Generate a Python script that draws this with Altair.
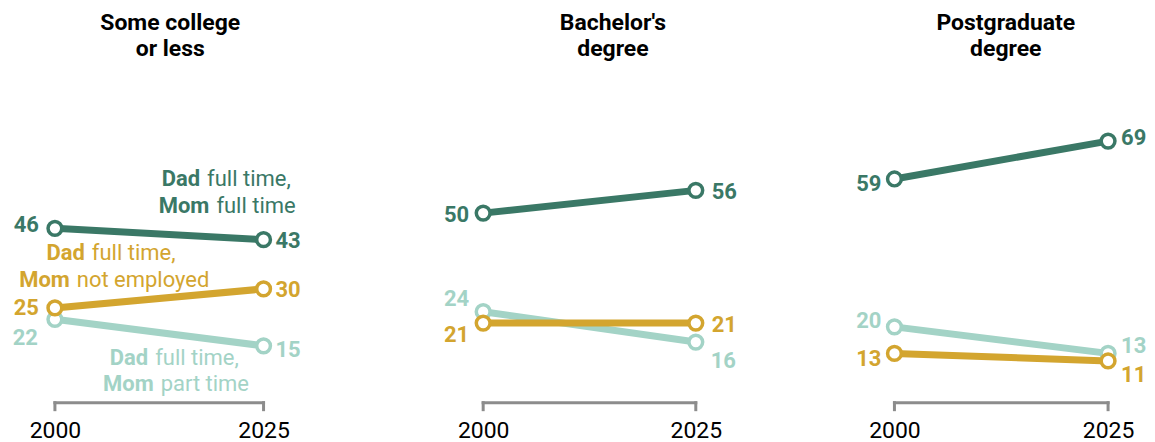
import altair as alt
import pandas as pd

# ---------------- data ----------------
panels = ["Some college or less", "Bachelor's degree", "Postgraduate degree"]
panel_titles = [["Some college", "or less"], ["Bachelor's", "degree"], ["Postgraduate", "degree"]]
years = [2000, 2025]
series_names = ["Dad full time, Mom part time",
                "Dad full time, Mom not employed",
                "Dad full time, Mom full time"]
mom_part_time = [[22, 15], [24, 16], [20, 13]]
mom_not_employed = [[25, 30], [21, 21], [13, 11]]
mom_full_time = [[46, 43], [50, 56], [59, 69]]
series_values = [mom_part_time, mom_not_employed, mom_full_time]

rows = []
for p, pname in enumerate(panels):
    for s, sname in enumerate(series_names):
        for yi, yr in enumerate(years):
            rows.append({"panel": pname, "series": sname, "year": yr,
                         "value": series_values[s][p][yi]})
df = pd.DataFrame(rows)

# ---------------- style / layout ----------------
colors = ["#A3D3C6", "#D3A52F", "#3A7866"]
gray = "#8C8C8C"
FONT = "Roboto"
HEIGHT = 395
y_dom = [0, 104]
widths = [372, 410, 357]
x_doms = [[1994.378, 2038.876], [1987.793, 2035.915], [1987.617, 2029.322]]
title_x = [2013.82, 2015.26, 2013.03]

# value label offsets (dx, dy) per panel, series, year index
offsets = {
    (0, 2, 0): (-16, -3), (0, 2, 1): (12, 1),
    (0, 1, 0): (-16, 0), (0, 1, 1): (12, 1),
    (0, 0, 0): (-17, 19), (0, 0, 1): (12, 4),
    (1, 2, 0): (-14, 2), (1, 2, 1): (16, 2),
    (1, 0, 0): (-14, -13), (1, 0, 1): (15, 19),
    (1, 1, 0): (-14, 12), (1, 1, 1): (16, 2),
    (2, 2, 0): (-13, 5), (2, 2, 1): (13, -3),
    (2, 0, 0): (-13, -6), (2, 0, 1): (13, -7),
    (2, 1, 0): (-13, 6), (2, 1, 1): (13, 14),
}

# series annotations in first panel: (series idx, x, y, bold, regular)
annotations = [
    (2, 2017.76, 57.13, "Dad", "full time,"),
    (2, 2018.87, 50.03, "Mom", "full time"),
    (1, 2003.95, 37.65, "Dad", "full time,"),
    (1, 2002.15, 30.62, "Mom", "not employed"),
    (0, 2011.54, 10.0, "Dad", "full time,"),
    (0, 2012.2, 2.98, "Mom", "part time"),
]

x_axis = alt.Axis(values=years, format="d", title=None, domain=False, ticks=False,
                  tickSize=0, grid=False, labelFontSize=23, labelFont=FONT,
                  labelColor="#000000", labelPadding=17)

one = alt.Data(values=[{"a": 0}])


def panel_chart(p):
    xs = alt.Scale(domain=x_doms[p], nice=False, zero=False)
    ys = alt.Scale(domain=y_dom, nice=False, zero=False)

    def X(field=None, datum=None):
        if datum is None:
            return alt.X(field, type="quantitative", scale=xs, axis=x_axis)
        return alt.XDatum(datum, type="quantitative", scale=xs, axis=x_axis)

    def Y(field=None, datum=None):
        if datum is None:
            return alt.Y(field, type="quantitative", scale=ys, axis=None)
        return alt.YDatum(datum, type="quantitative", scale=ys, axis=None)

    dpan = df[df.panel == panels[p]]
    layers = []

    # bracket axis
    layers.append(alt.Chart(one).mark_rule(color=gray, strokeWidth=3, strokeCap="square").encode(
        x=X(datum=years[0]), x2=alt.X2Datum(years[1]), y=Y(datum=0)))
    for yr in years:
        layers.append(alt.Chart(one).mark_rule(color=gray, strokeWidth=3, strokeCap="square").encode(
            x=X(datum=yr), y=Y(datum=0), y2=alt.value(HEIGHT + 7)))

    # lines
    for s, sname in enumerate(series_names):
        d = dpan[dpan.series == sname]
        layers.append(alt.Chart(d).mark_line(color=colors[s], strokeWidth=7).encode(
            x=X("year"), y=Y("value")))
    # points
    for s, sname in enumerate(series_names):
        d = dpan[dpan.series == sname]
        layers.append(alt.Chart(d).mark_point(shape="circle", filled=False, fill="white",
                                              fillOpacity=1, opacity=1, stroke=colors[s],
                                              strokeWidth=3.5, size=190).encode(
            x=X("year"), y=Y("value")))
    # value labels
    for s, sname in enumerate(series_names):
        for yi, yr in enumerate(years):
            d = dpan[(dpan.series == sname) & (dpan.year == yr)]
            dx, dy = offsets[(p, s, yi)]
            layers.append(alt.Chart(d).mark_text(
                font=FONT, fontSize=22, fontWeight="bold", color=colors[s],
                align="right" if yi == 0 else "left", baseline="middle", dx=dx, dy=dy).encode(
                x=X("year"), y=Y("value"), text=alt.Text("value:Q")))
    # panel title
    for li, line in enumerate(panel_titles[p]):
        layers.append(alt.Chart(one).mark_text(
            text=line, font=FONT, fontSize=23, fontWeight="bold", color="#000000",
            align="center", baseline="alphabetic").encode(
            x=X(datum=title_x[p]), y=alt.value(22 + 26 * li)))
    # series annotations
    if p == 0:
        for s, ax, ay, bold, reg in annotations:
            layers.append(alt.Chart(one).mark_text(
                text=bold, font=FONT, fontSize=22, fontWeight="bold", color=colors[s],
                align="right", baseline="alphabetic", dx=-3).encode(
                x=X(datum=ax), y=Y(datum=ay)))
            layers.append(alt.Chart(one).mark_text(
                text=reg, font=FONT, fontSize=22, fontWeight="normal", color=colors[s],
                align="left", baseline="alphabetic", dx=4).encode(
                x=X(datum=ax), y=Y(datum=ay)))

    return alt.layer(*layers).properties(width=widths[p], height=HEIGHT)


chart = alt.hconcat(*[panel_chart(p) for p in range(3)], spacing=0).properties(
    padding={"left": 0, "top": 0, "right": 0, "bottom": 0}
).configure(background="white").configure_view(strokeWidth=0, stroke=None)

chart.save("out.html", embed_options={"renderer": "svg", "actions": False})
